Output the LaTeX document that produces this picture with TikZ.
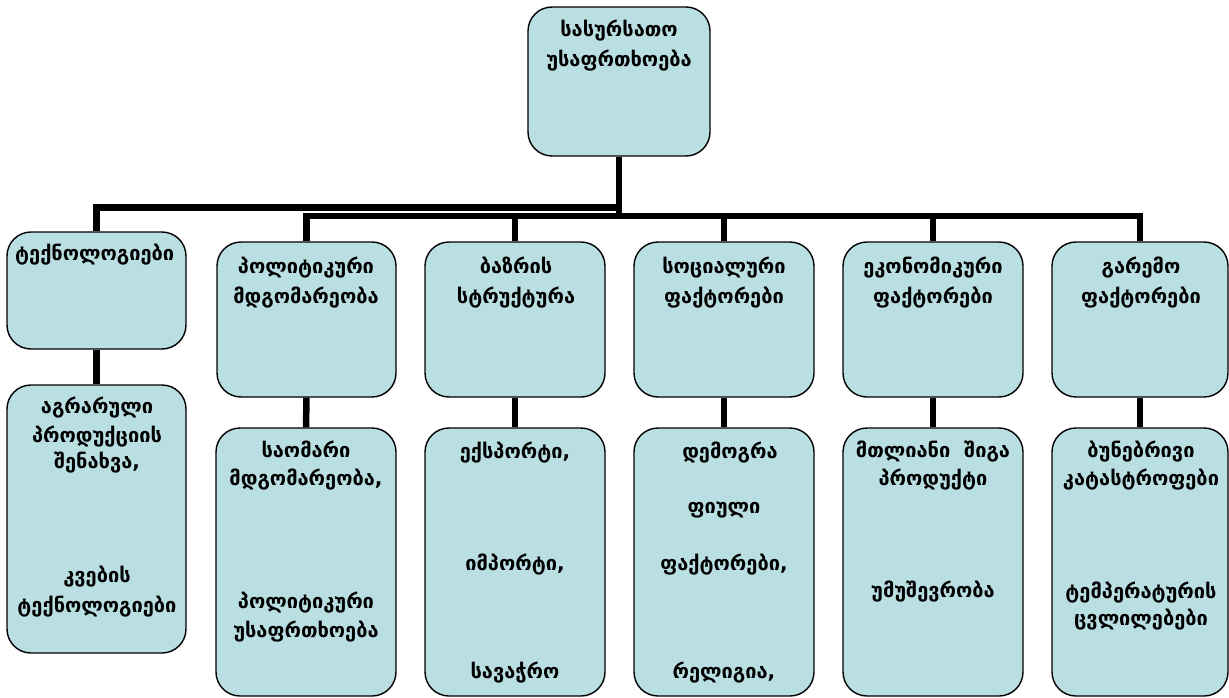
\documentclass[tikz,border=0pt]{standalone}
\usepackage{fontspec}
\setmainfont{DejaVu Sans}
\definecolor{boxfill}{RGB}{186,223,227}
\tikzset{
  box/.style={draw=black, line width=1.4pt, fill=boxfill, rounded corners=24pt, inner sep=0pt},
  lbl/.style={anchor=base, inner sep=0pt, font=\bfseries\fontsize{20}{24}\selectfont},
  conn/.style={line width=6.5pt, line join=miter, draw=black}
}
\newcommand{\boxat}[5]{\node[box, minimum width=#4-#2, minimum height=#5-#3] (#1) at ({(#2+#4)/2},{(#3+#5)/2}) {};}
\begin{document}
\begin{tikzpicture}[x=1pt,y=-1pt]
\useasboundingbox (0,0) rectangle (1229,698);
% boxes
\boxat{top}{528}{7}{710}{156}
\boxat{b1}{7}{232}{186}{349}
\boxat{b2}{217}{242}{396}{397}
\boxat{b3}{425}{242}{605}{397}
\boxat{b4}{634}{242}{814}{397}
\boxat{b5}{843}{242}{1023}{397}
\boxat{b6}{1052}{242}{1228}{397}
\boxat{c1}{7}{385}{186}{653}
\boxat{c2}{216}{428}{396}{696}
\boxat{c3}{425}{428}{605}{696}
\boxat{c4}{634}{428}{814}{696}
\boxat{c5}{843}{428}{1023}{696}
\boxat{c6}{1052}{428}{1228}{696}
% junctions
\coordinate (j1) at (619,207.5);
\coordinate (j2) at (619,216);
\coordinate (j3) at (619,219.25);
% connectors
\draw[conn] (top.south) -- (j3);
\draw[conn] (b1.north) |- (j1);
\draw[conn] (b2.north) -- (b2.north |- j2) -- (b6.north |- j2) -- (b6.north);
\draw[conn] (b3.north) -- (b3.north |- j2);
\draw[conn] (b4.north) -- (b4.north |- j2);
\draw[conn] (b5.north) -- (b5.north |- j2);
\foreach \i in {1,...,6}{\draw[conn] (b\i.south) -- (c\i.north);}
% texts
\node[lbl] (t1) at (619,37) {სასურსათო};
\node[lbl] (t2) at (619,67) {უსაფრთხოება};
\node[lbl, anchor=base west] (b1a) at (15,260) {ტექნოლოგიები};
\node[lbl] (b2a) at (306,273) {პოლიტიკური};
\node[lbl] (b2b) at (306,303) {მდგომარეობა};
\node[lbl] (b3a) at (516,273) {ბაზრის};
\node[lbl] (b3b) at (516,303) {სტრუქტურა};
\node[lbl] (b4a) at (724,273) {სოციალური};
\node[lbl] (b4b) at (724,303) {ფაქტორები};
\node[lbl] (b5a) at (933,273) {ეკონომიკური};
\node[lbl] (b5b) at (933,303) {ფაქტორები};
\node[lbl] (b6a) at (1141,273) {გარემო};
\node[lbl] (b6b) at (1141,303) {ფაქტორები};
\node[lbl] (c1a) at (97,413) {აგრარული};
\node[lbl] (c1b) at (97,442) {პროდუქციის};
\node[lbl] (c1c) at (97,468) {შენახვა,};
\node[lbl] (c1d) at (97,582) {კვების};
\node[lbl] (c1e) at (97,612) {ტექნოლოგიები};
\node[lbl] (c2a) at (306,457) {საომარი};
\node[lbl] (c2b) at (306,485) {მდგომარეობა,};
\node[lbl] (c2c) at (306,608) {პოლიტიკური};
\node[lbl] (c2d) at (306,637) {უსაფრთხოება};
\node[lbl] (c3a) at (515,458) {ექსპორტი,};
\node[lbl] (c3b) at (515,570) {იმპორტი,};
\node[lbl] (c3c) at (515,678) {სავაჭრო};
\node[lbl] (c4a) at (730,458) {დემოგრა};
\node[lbl] (c4b) at (724,513) {ფიული};
\node[lbl] (c4c) at (724,570) {ფაქტორები,};
\node[lbl] (c4d) at (724,678) {რელიგია,};
\node[lbl] (c5a) at (933,457) {მთლიანი\ \ შიგა};
\node[lbl] (c5b) at (933,485) {პროდუქტი};
\node[lbl] (c5c) at (933,597) {უმუშევრობა};
\node[lbl] (c6a) at (1141,457) {ბუნებრივი};
\node[lbl] (c6b) at (1141,485) {კატასტროფები};
\node[lbl] (c6c) at (1141,598) {ტემპერატურის};
\node[lbl] (c6d) at (1141,625) {ცვლილებები};
\end{tikzpicture}
\end{document}
